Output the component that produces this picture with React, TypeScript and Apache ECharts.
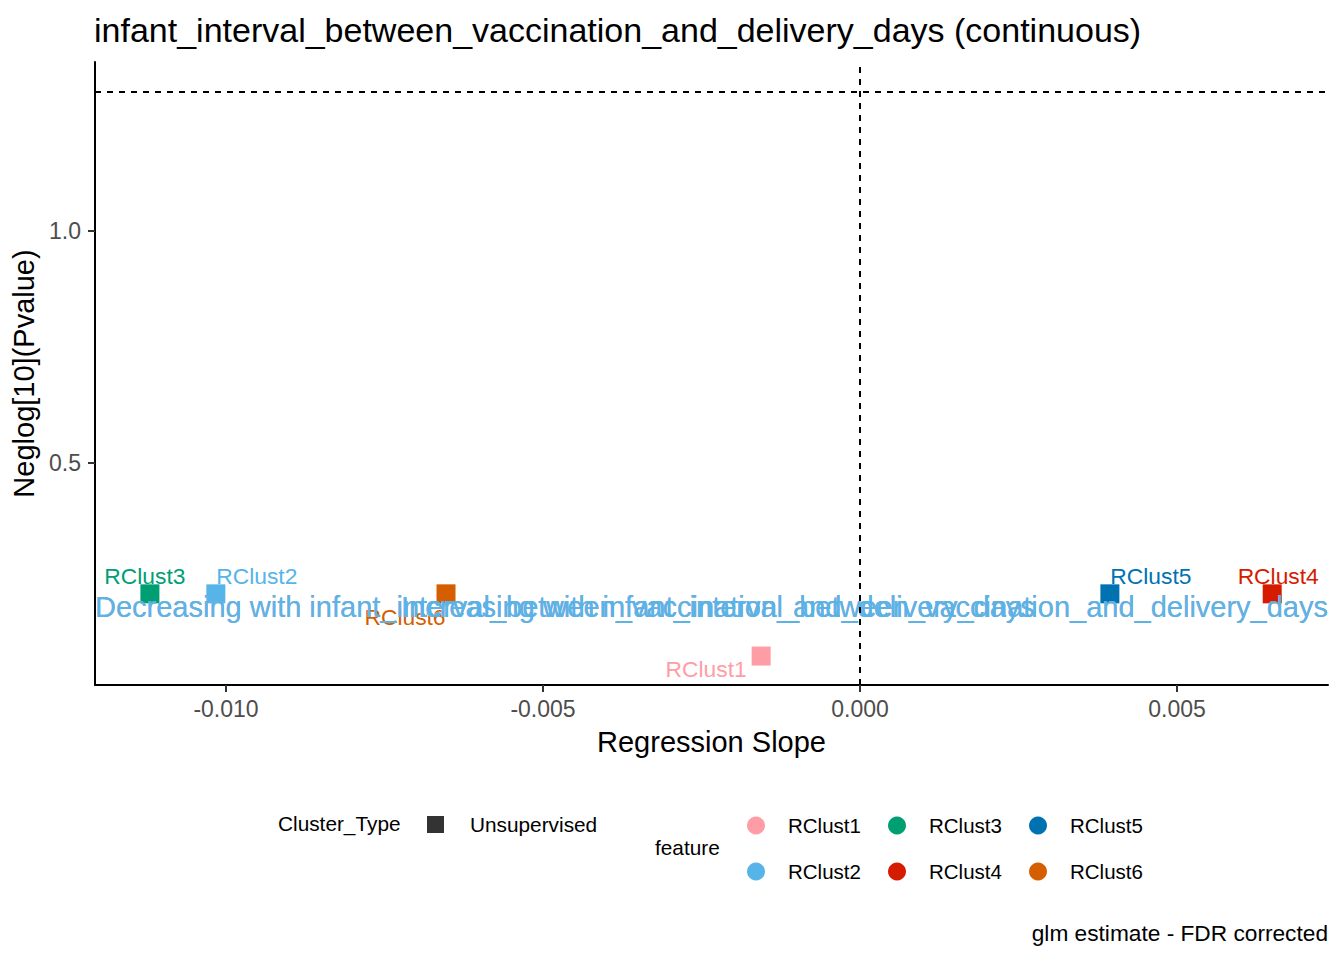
import React, { useEffect, useRef } from "react";
import * as echarts from "echarts";

const FONT = "'Liberation Sans', Arial, Helvetica, sans-serif";

const clusterNames = ["RClust1", "RClust2", "RClust3", "RClust4", "RClust5", "RClust6"];
const clusterColors = ["#FF9DA6", "#56B4E9", "#009E73", "#D51C00", "#0072B2", "#D55E00"];
const slopeValues = [-0.00156, -0.01016, -0.0112, 0.0065, 0.00394, -0.00653];
const neglogP = [0.084, 0.218, 0.218, 0.218, 0.218, 0.218];
const labelOffsets: [number, number][] = [
  [-55, 13],
  [41, -18],
  [-5, -18],
  [6, -18],
  [41, -18],
  [-41, 23],
];

const xTicks = [-0.01, -0.005, 0, 0.005];
const yTicks = [0.5, 1.0];
const xMin = -0.012066;
const xMax = 0.00738;
const yMin = 0.0216;
const yMax = 1.364;
const significanceLine = 1.30103;
const annotY = 0.19;
const featureName = "infant_interval_between_vaccination_and_delivery_days";
const annotLayerColors = ["#FF9DA6", "#56B4E9", "#56B4E9"];

export default function App() {
  const ref = useRef<HTMLDivElement>(null);
  useEffect(() => {
    if (!ref.current) return;
    const chart = echarts.init(ref.current, undefined, { renderer: "svg" });

    const clusterSeries = clusterNames.map((name, i) => ({
      name,
      type: "scatter",
      symbol: "rect",
      symbolSize: 19,
      itemStyle: { color: clusterColors[i], opacity: 1 },
      data: [[slopeValues[i], neglogP[i]]],
      label: {
        show: true,
        formatter: name,
        position: "inside",
        offset: labelOffsets[i],
        color: clusterColors[i],
        fontSize: 22.8,
        fontFamily: FONT,
      },
      z: 3,
    }));

    const annotSeries = annotLayerColors.map((col, k) => ({
      name: "annotations" + k,
      type: "scatter",
      symbolSize: 1,
      itemStyle: { color: "rgba(0,0,0,0)" },
      silent: true,
      z: 4,
      data: [
        {
          value: [xMin, annotY],
          label: { formatter: `Decreasing with ${featureName}`, align: "left" },
        },
        {
          value: [xMax, annotY],
          label: { formatter: `Increasing with ${featureName}`, align: "right" },
        },
      ],
      label: {
        show: true,
        position: "inside",
        color: col,
        fontSize: 29,
        fontFamily: FONT,
      },
      ...(k === 0
        ? {
            markLine: {
              silent: true,
              symbol: "none",
              label: { show: false },
              lineStyle: { color: "#000", width: 2, type: [6, 6] },
              data: [{ xAxis: 0 }, { yAxis: significanceLine }],
            },
          }
        : {}),
    }));

    const option: any = {
      animation: false,
      backgroundColor: "#ffffff",
      title: {
        text: `${featureName} (continuous)`,
        left: 89,
        top: 8,
        textStyle: { fontSize: 34, fontWeight: "normal", color: "#000", fontFamily: FONT },
      },
      grid: { left: 95, right: 16, top: 62, bottom: 275 },
      xAxis: {
        type: "value",
        min: xMin,
        max: xMax,
        name: "Regression Slope",
        nameLocation: "middle",
        nameGap: 42,
        nameTextStyle: { fontSize: 29, color: "#000", fontFamily: FONT },
        axisLine: { show: true, onZero: false, lineStyle: { color: "#000", width: 2 } },
        axisTick: { show: true, length: 7, customValues: xTicks, lineStyle: { color: "#333", width: 2 } },
        axisLabel: {
          customValues: xTicks,
          formatter: (v: number) => (Math.abs(v) < 1e-12 ? "0.000" : v.toFixed(3)),
          fontSize: 23,
          color: "#4D4D4D",
          margin: 12,
          fontFamily: FONT,
        },
        splitLine: { show: false },
      },
      yAxis: {
        type: "value",
        min: yMin,
        max: yMax,
        name: "Neglog[10](Pvalue)",
        nameLocation: "middle",
        nameGap: 50,
        nameRotate: 90,
        nameTextStyle: { fontSize: 29, color: "#000", fontFamily: FONT },
        axisLine: { show: true, onZero: false, lineStyle: { color: "#000", width: 2 } },
        axisTick: { show: true, length: 7, customValues: yTicks, lineStyle: { color: "#333", width: 2 } },
        axisLabel: {
          customValues: yTicks,
          formatter: (v: number) => v.toFixed(1),
          fontSize: 23,
          color: "#4D4D4D",
          margin: 14,
          fontFamily: FONT,
        },
        splitLine: { show: false },
      },
      legend: [
        {
          data: ["Unsupervised"],
          left: 427,
          top: 814,
          padding: 0,
          icon: "rect",
          itemWidth: 17,
          itemHeight: 17,
          selectedMode: false,
          itemStyle: { color: "#000" },
          textStyle: { fontSize: 20.8, color: "#000", fontFamily: FONT, padding: [0, 0, 0, 21] },
        },
        ...[0, 1, 2].map((c) => ({
          data: [clusterNames[c * 2], clusterNames[c * 2 + 1]],
          orient: "vertical",
          left: 747 + c * 141,
          top: 815,
          padding: 0,
          icon: "circle",
          itemWidth: 18,
          itemHeight: 18,
          itemGap: 25,
          selectedMode: false,
          textStyle: { fontSize: 20.5, color: "#000", fontFamily: FONT, padding: [0, 0, 0, 18] },
        })),
      ],
      graphic: [
        {
          type: "text",
          left: 278,
          top: 813,
          style: { text: "Cluster_Type", fontSize: 20.8, fill: "#000", fontFamily: FONT },
        },
        {
          type: "text",
          left: 655,
          top: 837,
          style: { text: "feature", fontSize: 20.8, fill: "#000", fontFamily: FONT },
        },
        {
          type: "text",
          right: 16,
          top: 921,
          style: { text: "glm estimate - FDR corrected", fontSize: 22.7, fill: "#000", fontFamily: FONT },
        },
      ],
      series: [
        {
          name: "Unsupervised",
          type: "scatter",
          symbol: "rect",
          itemStyle: { color: "#000" },
          data: [],
        },
        ...clusterSeries,
        ...annotSeries,
      ],
    };

    chart.setOption(option);
    return () => chart.dispose();
  }, []);

  return (
    <div
      ref={ref}
      style={{ position: "fixed", left: 0, top: 0, width: 1344, height: 960, background: "#fff" }}
    />
  );
}
